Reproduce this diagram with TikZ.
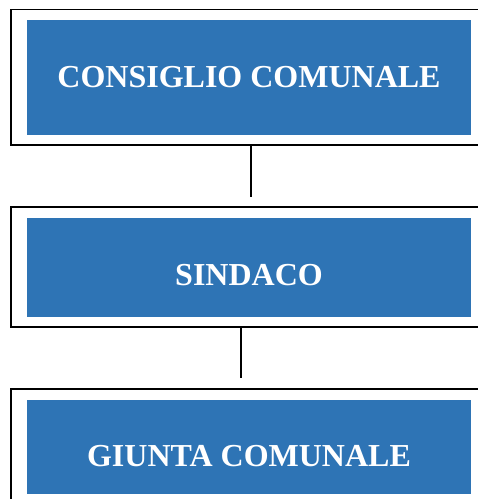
\documentclass[tikz,border=0pt]{standalone}
\usepackage{fontspec}
\setmainfont{Liberation Serif}
\usetikzlibrary{positioning}
\definecolor{wordblue}{HTML}{2E74B5}

\begin{document}
\begin{tikzpicture}[x=1pt,y=-1pt,
    frame/.style={draw=black,line width=1.6pt,minimum width=473pt,minimum height=#1,inner sep=0pt},
    frame/.default=120pt,
    panel/.style={fill=wordblue,minimum width=444pt,minimum height=#1,inner sep=0pt},
    panel/.default=99pt,
    caption/.style={text=white,font=\fontsize{32}{36}\selectfont\bfseries,inner sep=0pt},
    link/.style={draw=black,line width=1.6pt}]
    \useasboundingbox (0,0) rectangle (478,499);
    \begin{scope}
    \clip (0,0) rectangle (478,499);
    \node[frame=135.5pt] (f1) at (247.5,77.25) {};
    \node[frame]         (f2) at (247.5,267)   {};
    \node[frame]         (f3) at (247.5,449)   {};
    \end{scope}

    \node[panel=115pt] (p1) at (249,77.5) {};
    \node[panel]       (p2) at (249,267)  {};
    \node[panel=94pt]  (p3) at (249,447)  {};

    \node[caption] (consiglio) at (249,77)  {CONSIGLIO COMUNALE};
    \node[caption] (sindaco)   at (249,275) {SINDACO};
    \node[caption] (giunta)    at (249,456) {GIUNTA COMUNALE};

    \coordinate (e1) at (251,197);
    \coordinate (e2) at (241,378);
    \path[link] (f1.south -| e1) -- (e1)
                (f2.south -| e2) -- (e2);
\end{tikzpicture}
\end{document}
